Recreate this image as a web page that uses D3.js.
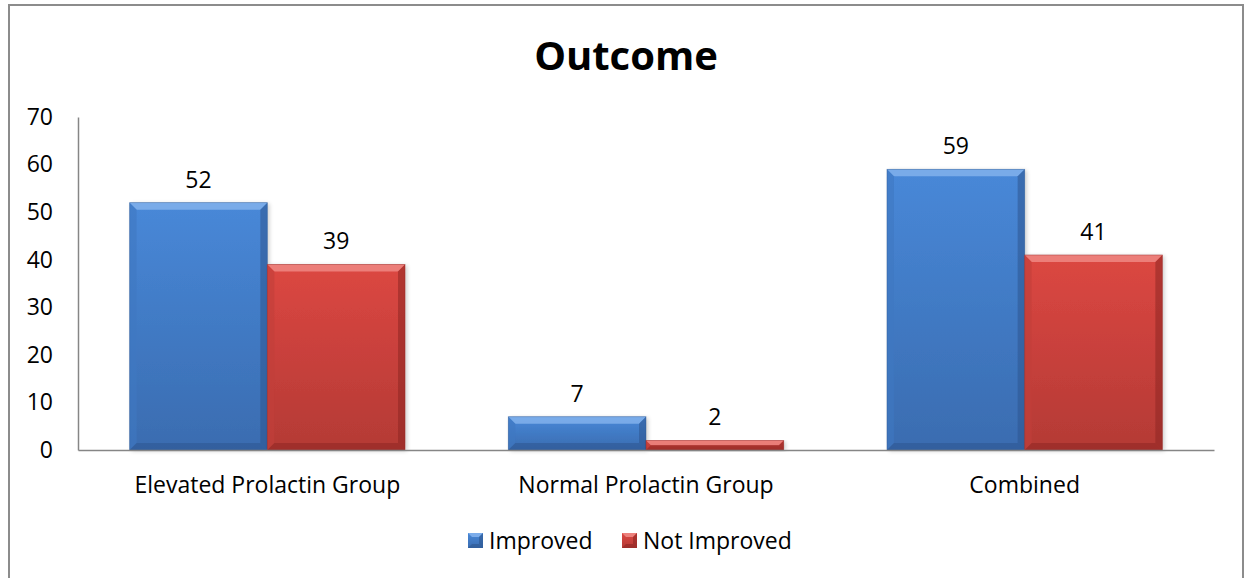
<!DOCTYPE html>
<html>
<head>
<meta charset="utf-8">
<script src="https://cdn.jsdelivr.net/npm/d3@7/dist/d3.min.js"></script>
<style>
  html, body { margin: 0; padding: 0; background: #fff; }
  svg { display: block; font-family: "Open Sans", Carlito, Calibri, sans-serif; }
</style>
</head>
<body>
<svg id="chart" width="1252" height="578"></svg>
<script>
// Outcome counts by prolactin group
const categories = ["Elevated Prolactin Group", "Normal Prolactin Group", "Combined"];
const seriesNames = ["Improved", "Not Improved"];
const improved = [52, 7, 59];
const notImproved = [39, 2, 41];
const yTicks = [0, 10, 20, 30, 40, 50, 60, 70];

const FONT = "'Open Sans', Carlito, Calibri, sans-serif";
const FS = 23;
const palette = {
  "Improved": { top: "#4888d8", bottom: "#3a6cb0", light: "#86b4ee", dark: "#2d5690", side: "#3f78c2" },
  "Not Improved": { top: "#dc4742", bottom: "#b43a35", light: "#f08c87", dark: "#8e2623", side: "#c23f3a" }
};

const svg = d3.select("#chart");
const W = 1252, H = 578;
const plot = { left: 78, right: 1214, top: 117, bottom: 450 };

// Chart frame
svg.append("rect")
  .attr("x", 9).attr("y", 5)
  .attr("width", 1234).attr("height", H + 10)
  .attr("fill", "#fff").attr("stroke", "#8c8c8c").attr("stroke-width", 2);

// Title
svg.append("text")
  .attr("x", 626).attr("y", 70)
  .attr("text-anchor", "middle")
  .attr("font-size", 40).attr("font-weight", "bold")
  .attr("fill", "#000")
  .text("Outcome");

const x0 = d3.scaleBand().domain(categories).range([plot.left, plot.right]).paddingInner(0).paddingOuter(0);
const groupWidth = x0.bandwidth();
// gap between clusters is 75% of a bar's width
const barW = groupWidth / (2 + 0.75);
const x1 = d3.scaleBand().domain(seriesNames).range([0, barW * 2]);
const y = d3.scaleLinear().domain([0, 70]).range([plot.bottom, plot.top]);

const defs = svg.append("defs");
seriesNames.forEach((s, i) => {
  const g = defs.append("linearGradient").attr("id", "grad" + i)
    .attr("x1", 0).attr("y1", 0).attr("x2", 0).attr("y2", 1);
  g.append("stop").attr("offset", "0%").attr("stop-color", palette[s].top);
  g.append("stop").attr("offset", "100%").attr("stop-color", palette[s].bottom);
  const f = defs.append("filter").attr("id", "shadow" + i)
    .attr("x", "-10%").attr("y", "-10%").attr("width", "130%").attr("height", "130%");
  f.append("feGaussianBlur").attr("in", "SourceAlpha").attr("stdDeviation", 2);
  f.append("feOffset").attr("dx", 2).attr("dy", 1).attr("result", "b");
  f.append("feComponentTransfer").append("feFuncA").attr("type", "linear").attr("slope", 0.2);
  const m = f.append("feMerge");
  m.append("feMergeNode");
  m.append("feMergeNode").attr("in", "SourceGraphic");
});

// Axes
const yAxis = d3.axisLeft(y).tickValues(yTicks).tickSize(0).tickPadding(25);
const gy = svg.append("g").attr("transform", `translate(${plot.left},0)`).call(yAxis);
gy.attr("font-family", FONT);
gy.select(".domain").attr("stroke", "#868686").attr("stroke-width", 1.5);
gy.selectAll("text").attr("font-size", FS).attr("fill", "#000");

const data = categories.map((c, i) => ({ cat: c, values: [
  { s: "Improved", v: improved[i], idx: 0 },
  { s: "Not Improved", v: notImproved[i], idx: 1 }
]}));

const groups = svg.append("g").selectAll("g").data(data).join("g")
  .attr("transform", d => `translate(${x0(d.cat) + (groupWidth - barW * 2) / 2},0)`);

const bars = groups.selectAll("g.bar").data(d => d.values).join("g").attr("class", "bar");
bars.each(function(d) {
  const g = d3.select(this);
  const x = x1(d.s), w = x1.bandwidth();
  const yt = y(d.v), yb = y(0), h = yb - yt;
  const p = palette[d.s];
  const b = Math.min(7, h / 2);
  g.append("rect").attr("x", x).attr("y", yt).attr("width", w).attr("height", h)
    .attr("fill", `url(#grad${d.idx})`).attr("filter", `url(#shadow${d.idx})`);
  // bevelled edges
  const poly = (pts, fill, op) => g.append("polygon")
    .attr("points", pts.map(q => q.join(",")).join(" "))
    .attr("fill", fill).attr("opacity", op);
  poly([[x, yt], [x + w, yt], [x + w - b, yt + b], [x + b, yt + b]], p.light, 0.8);
  poly([[x, yt], [x + b, yt + b], [x + b, yb - b], [x, yb]], p.side, 0.6);
  poly([[x + w, yt], [x + w, yb], [x + w - b, yb - b], [x + w - b, yt + b]], p.dark, 0.55);
  poly([[x, yb], [x + b, yb - b], [x + w - b, yb - b], [x + w, yb]], p.dark, 0.55);
  g.append("rect").attr("x", x).attr("y", yt).attr("width", w).attr("height", h)
    .attr("fill", "none").attr("stroke", p.dark).attr("stroke-opacity", 0.5).attr("stroke-width", 0.8);
  // value label
  g.append("text").attr("x", x + w / 2).attr("y", yt - 15)
    .attr("text-anchor", "middle").attr("font-size", FS).attr("fill", "#000")
    .text(d.v);
});

// X axis
const xAxis = d3.axisBottom(x0).tickSize(0).tickPadding(27);
const gx = svg.append("g").attr("transform", `translate(0,${plot.bottom})`).call(xAxis);
gx.attr("font-family", FONT);
gx.select(".domain").attr("stroke", "#868686").attr("stroke-width", 1.5);
gx.selectAll("text").attr("font-size", FS).attr("fill", "#000");

// Legend
const legendItems = [
  { s: "Improved", idx: 0, x: 468 },
  { s: "Not Improved", idx: 1, x: 622 }
];
const lg = svg.append("g").selectAll("g").data(legendItems).join("g")
  .attr("transform", d => `translate(${d.x},533)`);
lg.each(function(d) {
  const g = d3.select(this);
  const p = palette[d.s], s = 15, b = 4;
  g.append("rect").attr("width", s).attr("height", s).attr("fill", `url(#grad${d.idx})`);
  const poly = (pts, fill, op) => g.append("polygon")
    .attr("points", pts.map(q => q.join(",")).join(" ")).attr("fill", fill).attr("opacity", op);
  poly([[0, 0], [s, 0], [s - b, b], [b, b]], p.light, 0.85);
  poly([[s, 0], [s, s], [s - b, s - b], [s - b, b]], p.dark, 0.6);
  poly([[0, s], [b, s - b], [s - b, s - b], [s, s]], p.dark, 0.6);
  g.append("text").attr("x", s + 6).attr("y", 16).attr("font-size", FS).attr("fill", "#000").text(d.s);
});
</script>
</body>
</html>
